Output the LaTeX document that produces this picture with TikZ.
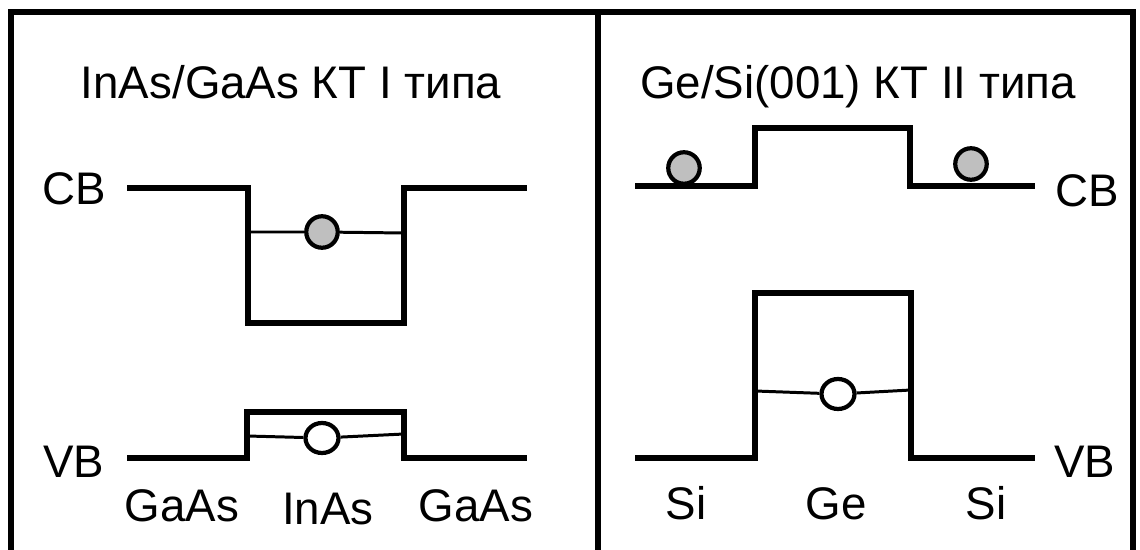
\documentclass[tikz,border=0pt]{standalone}
\usepackage{fontspec}
\setmainfont{Liberation Sans}
\usetikzlibrary{positioning}
\usetikzlibrary{shapes.geometric}

\begin{document}
\begin{tikzpicture}
    [x=0.02cm,y=-0.02cm,
    boxline/.style={line width=3pt},
    band/.style={line width=3pt,line join=miter},
    lvl/.style={line width=1.7pt},
    electron/.style={circle,draw,fill=black!25,line width=2.4pt,
      inner sep=0pt,minimum size=0.63cm},
    hole/.style={ellipse,draw,fill=white,line width=2.4pt,
      inner sep=0pt,minimum width=0.66cm,minimum height=0.6cm},
    txt/.style={inner sep=0pt,font=\fontsize{26}{30}\selectfont}]

    \useasboundingbox (0,0) rectangle (1140,550);

    % frame
    \draw[boxline] (11,550) -- (11,12) -- (1133,12) -- (1133,550);
    \draw[boxline] (598,12) -- (598,550);

    % titles
    \node[txt,anchor=base] (title I)  at (291,99) {InAs/GaAs КТ I типа};
    \node[txt,anchor=base] (title II) at (858,99) {Ge/Si(001) КТ II типа};

    % InAs/GaAs, conduction band
    \coordinate (cb1 a) at (127,188);
    \coordinate (cb1 b) at (248,188);
    \coordinate (cb1 c) at (248,323);
    \coordinate (cb1 d) at (404,323);
    \coordinate (cb1 e) at (404,188);
    \coordinate (cb1 f) at (527,188);
    \draw[band] (cb1 a) -- (cb1 b) -- (cb1 c) -- (cb1 d) -- (cb1 e) -- (cb1 f);

    \coordinate (el1 l) at (248,232);
    \coordinate (el1 r) at (404,233);
    \node[electron] (electron 1) at (322,232) {};
    \draw[lvl] (el1 l) -- (electron 1) -- (el1 r);

    % InAs/GaAs, valence band
    \coordinate (vb1 a) at (127,458);
    \coordinate (vb1 b) at (247,458);
    \coordinate (vb1 c) at (247,412);
    \coordinate (vb1 d) at (404,412);
    \coordinate (vb1 e) at (404,458);
    \coordinate (vb1 f) at (527,458);
    \draw[band] (vb1 a) -- (vb1 b) -- (vb1 c) -- (vb1 d) -- (vb1 e) -- (vb1 f);

    \coordinate (hl1 l) at (247,436);
    \coordinate (hl1 r) at (404,434);
    \node[hole] (hole 1) at (322,438) {};
    \draw[lvl] (hl1 l) -- (hole 1) -- (hl1 r);

    \node[txt,anchor=base west] (cb label 1) at (42,205) {CB};
    \node[txt,anchor=base west] (vb label 1) at (43,478) {VB};
    \node[txt,anchor=base] (gaas l) at (182,521) {GaAs};
    \node[txt,anchor=base] (inas)   at (328,525) {InAs};
    \node[txt,anchor=base] (gaas r) at (476,521) {GaAs};

    % Ge/Si, conduction band
    \coordinate (cb2 a) at (635,186);
    \coordinate (cb2 b) at (755,186);
    \coordinate (cb2 c) at (755,128);
    \coordinate (cb2 d) at (910,128);
    \coordinate (cb2 e) at (910,186);
    \coordinate (cb2 f) at (1035,186);
    \draw[band] (cb2 a) -- (cb2 b) -- (cb2 c) -- (cb2 d) -- (cb2 e) -- (cb2 f);

    \node[electron] (electron 2) at (684,168) {};
    \node[electron] (electron 3) at (971,164) {};

    % Ge/Si, valence band
    \coordinate (vb2 a) at (635,458);
    \coordinate (vb2 b) at (755,458);
    \coordinate (vb2 c) at (755,293);
    \coordinate (vb2 d) at (911,293);
    \coordinate (vb2 e) at (911,458);
    \coordinate (vb2 f) at (1035,458);
    \draw[band] (vb2 a) -- (vb2 b) -- (vb2 c) -- (vb2 d) -- (vb2 e) -- (vb2 f);

    \coordinate (hl2 l) at (755,391);
    \coordinate (hl2 r) at (911,390);
    \node[hole] (hole 2) at (838,394) {};
    \draw[lvl] (hl2 l) -- (hole 2) -- (hl2 r);

    \node[txt,anchor=base west] (cb label 2) at (1055,207) {CB};
    \node[txt,anchor=base west] (vb label 2) at (1054,478) {VB};
    \node[txt,anchor=base] (si l) at (686,520) {Si};
    \node[txt,anchor=base] (ge)   at (836,520) {Ge};
    \node[txt,anchor=base] (si r) at (986,520) {Si};

  \end{tikzpicture}
\end{document}
